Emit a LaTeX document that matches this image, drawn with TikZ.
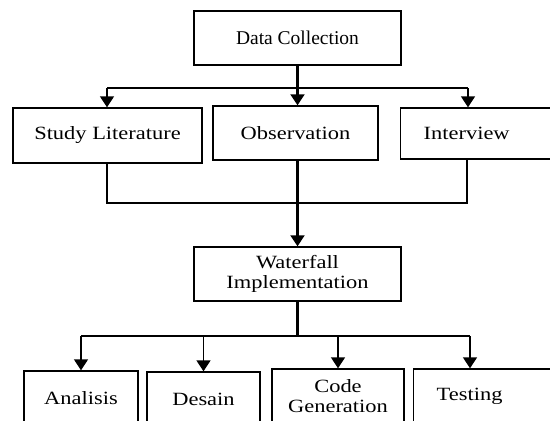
\documentclass[tikz,border=0pt]{standalone}
\usepackage{fontspec}
\setmainfont{Liberation Serif}
\newfontfamily\widefont[FakeStretch=1.2]{Liberation Serif}
\usetikzlibrary{arrows.meta}
\begin{document}
\begin{tikzpicture}[x=1bp,y=-1bp,
  box/.style={draw, line width=1.4bp, inner sep=0pt, align=center,
    font=\widefont\fontsize{18.7bp}{20bp}\selectfont},
  conn/.style={line width=1.5bp},
  mainconn/.style={line width=2.1bp},
  arr/.style={-{Triangle[width=14bp,length=11bp]}}]
\useasboundingbox (0,0) rectangle (550,420);
\clip (0,0) rectangle (550,420);
% top level
\node[box, minimum width=207bp, minimum height=54bp,
  font=\fontsize{19.5bp}{20bp}\selectfont] (dc) at (297.5,38) {Data Collection};
\node[box, minimum width=189bp, minimum height=55bp] (sl) at (107.5,135.5) {Study Literature};
\node[box, minimum width=165bp, minimum height=54bp] (ob) at (295.5,133) {Observation};
\node[box, minimum height=51bp, text width=124bp, inner xsep=23bp, align=left,
  anchor=west] (iv) at (400,133.5) {Interview};
% middle
\node[box, minimum width=207bp, minimum height=54bp] (wf) at (297.5,274) {Waterfall\\Implementation};
% bottom
\node[box, minimum width=114bp, minimum height=54bp] (an) at (81,398) {Analisis};
\node[box, minimum width=113bp, minimum height=54bp] (de) at (203.5,399) {Desain};
\node[box, minimum width=132bp, minimum height=54bp] (cg) at (338,396) {Code\\Generation};
\node[box, minimum height=54bp, text width=111bp, inner xsep=23bp, align=left,
  anchor=west] (te) at (413,396) {Testing};
% coordinates
\coordinate (a1) at (107,88);
\coordinate (a3) at (468,88);
\coordinate (b1) at (107,203);
\coordinate (b3) at (467,203);
\coordinate (c1) at (81,336);
\coordinate (c4) at (470,336);
% connectors top
\draw[mainconn] (dc.south) -- (dc.south |- a1);
\draw[conn] (a1) -- (a3);
\draw[conn, arr] (a1) -- (a1 |- sl.north);
\draw[mainconn, arr] (dc.south |- a1) -- (dc.south |- ob.north);
\draw[conn, arr] (a3) -- (a3 |- iv.north);
% merge
\draw[conn] (b1 |- sl.south) -- (b1) -- (b3) -- (b3 |- iv.south);
\draw[mainconn, arr] (wf.north |- ob.south) -- (wf.north);
% bottom
\draw[mainconn] (wf.south) -- (wf.south |- c1);
\draw[conn] (c1) -- (c4);
\draw[conn, arr] (c1) -- (c1 |- an.north);
\draw[conn, arr] (de.north |- c1) -- (de.north);
\draw[conn, arr] (cg.north |- c1) -- (cg.north);
\draw[conn, arr] (c4) -- (c4 |- te.north);
\end{tikzpicture}
\end{document}
